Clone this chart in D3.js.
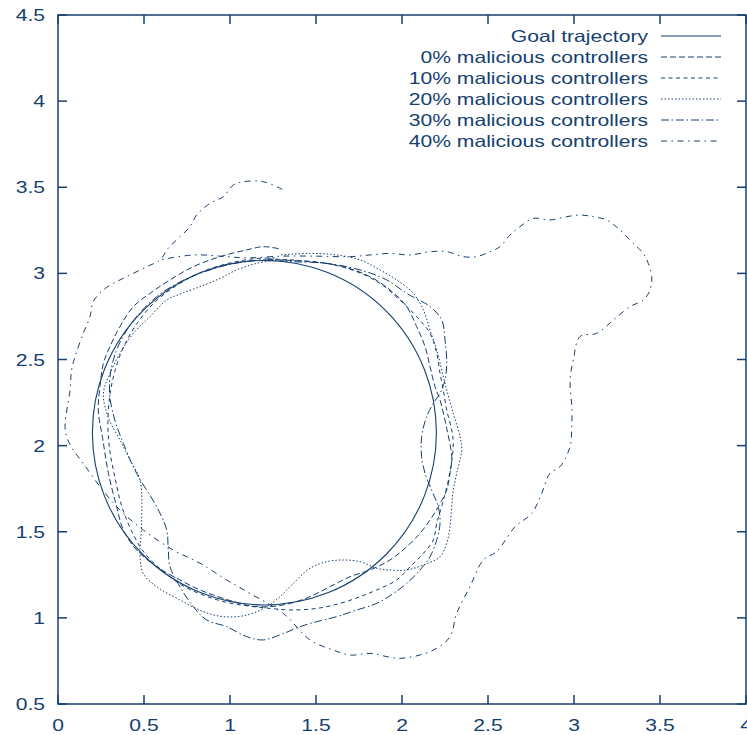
<!DOCTYPE html>
<html>
<head>
<meta charset="utf-8">
<script src="https://cdn.jsdelivr.net/npm/d3@7"></script>
<style>
body { margin: 0; background: #fff; }
text { font-family: "Liberation Sans", Arial, sans-serif; font-size: 16.5px; fill: #163f6f; }
</style>
</head>
<body>
<svg id="chart" width="747" height="735"></svg>
<script>

// tick values
const xTicks = [0, 0.5, 1, 1.5, 2, 2.5, 3, 3.5, 4];
const yTicks = [0.5, 1, 1.5, 2, 2.5, 3, 3.5, 4, 4.5];

const seriesNames = ['Goal trajectory', '0% malicious controllers', '10% malicious controllers',
                     '20% malicious controllers', '30% malicious controllers', '40% malicious controllers'];

// goal trajectory is a circle
const goalCenter = [1.2, 2.075];
const goalRadius = 1.0;

const traj0 = [
  [1.22,3.08],[1.465,3.068],[1.659,3.039],[1.814,2.981],[1.93,2.904],[2.027,2.807],[2.085,2.691],
  [2.134,2.575],[2.163,2.458],[2.192,2.342],[2.221,2.265],[2.26,2.10],[2.289,1.936],[2.279,1.839],
  [2.26,1.742],[2.211,1.645],[2.163,1.568],[2.105,1.491],[2.027,1.413],[1.93,1.336],[1.814,1.278],
  [1.698,1.239],[1.581,1.181],[1.465,1.123],[1.349,1.084],[1.233,1.065],[1.116,1.07],[0.961,1.113],
  [0.826,1.162],[0.709,1.22],[0.574,1.297],[0.457,1.394],[0.38,1.51],[0.341,1.645],[0.293,1.839],
  [0.26,2.04],[0.234,2.207],[0.244,2.342],[0.264,2.478],[0.302,2.575],[0.36,2.691],[0.438,2.807],
  [0.535,2.884],[0.651,2.962],[0.787,3.039],[0.942,3.097],[1.097,3.136],[1.194,3.155],[1.30,3.14]
];

const traj10 = [
  [1.22,3.085],[1.40,3.075],[1.562,3.058],[1.737,3.01],[1.872,2.942],[1.988,2.845],[2.085,2.749],
  [2.163,2.652],[2.202,2.536],[2.221,2.42],[2.24,2.323],[2.26,2.207],[2.289,2.091],[2.298,2.012],
  [2.28,1.85],[2.24,1.68],[2.202,1.549],[2.182,1.452],[2.124,1.374],[2.047,1.297],[1.969,1.22],
  [1.853,1.162],[1.756,1.123],[1.64,1.084],[1.504,1.055],[1.349,1.046],[1.233,1.055],[1.10,1.07],
  [0.98,1.09],[0.85,1.13],[0.72,1.19],[0.60,1.28],[0.50,1.38],[0.43,1.50],[0.37,1.65],[0.33,1.82],
  [0.30,1.98],[0.29,2.13],[0.30,2.28],[0.33,2.43],[0.38,2.57],[0.46,2.71],[0.56,2.83],[0.69,2.93],
  [0.84,3.01],[1.0,3.06],[1.14,3.085],[1.26,3.09]
];

const traj20 = [
  [1.271,3.078],[1.155,3.058],[1.039,3.02],[0.942,2.971],[0.826,2.923],[0.719,2.884],[0.632,2.845],
  [0.535,2.749],[0.438,2.652],[0.36,2.536],[0.302,2.42],[0.264,2.304],[0.29,2.17],[0.36,2.033],
  [0.419,1.916],[0.477,1.8],[0.486,1.549],[0.477,1.355],[0.496,1.257],[0.574,1.181],[0.709,1.104],
  [0.845,1.036],[0.961,1.007],[1.097,1.016],[1.213,1.065],[1.291,1.123],[1.368,1.2],[1.465,1.288],
  [1.562,1.326],[1.659,1.336],[1.756,1.326],[1.853,1.288],[1.93,1.278],[2.027,1.278],[2.124,1.307],
  [2.221,1.355],[2.26,1.433],[2.279,1.529],[2.289,1.645],[2.298,1.742],[2.318,1.839],[2.347,1.975],
  [2.337,2.052],[2.298,2.188],[2.26,2.323],[2.231,2.439],[2.202,2.555],[2.163,2.671],[2.124,2.788],
  [2.066,2.884],[1.969,2.962],[1.872,3.02],[1.756,3.078],[1.62,3.107],[1.465,3.116],[1.291,3.107]
];

const traj30 = [
  [1.20,3.08],[1.368,3.068],[1.562,3.058],[1.756,3.02],[1.911,2.962],[2.027,2.884],[2.163,2.807],
  [2.231,2.729],[2.25,2.613],[2.26,2.478],[2.25,2.381],[2.221,2.304],[2.182,2.245],[2.143,2.168],
  [2.114,2.052],[2.114,1.936],[2.134,1.839],[2.172,1.742],[2.211,1.645],[2.221,1.549],[2.202,1.452],
  [2.163,1.355],[2.105,1.278],[2.027,1.2],[1.95,1.142],[1.853,1.084],[1.737,1.046],[1.62,1.007],
  [1.504,0.978],[1.407,0.949],[1.31,0.909],[1.194,0.872],[1.097,0.891],[0.981,0.949],[0.864,0.988],
  [0.787,1.065],[0.709,1.181],[0.651,1.297],[0.641,1.394],[0.632,1.51],[0.574,1.645],[0.457,1.839],
  [0.38,2.013],[0.33,2.15],[0.30,2.3],[0.31,2.45],[0.36,2.6],[0.45,2.74],[0.58,2.87],[0.75,2.97],
  [0.95,3.04],[1.10,3.07],[1.20,3.08]
];

const traj40 = [
  [1.304,3.488],[1.194,3.532],[1.077,3.532],[1.019,3.513],[0.961,3.445],[0.884,3.407],[0.806,3.339],
  [0.767,3.271],[0.70,3.204],[0.641,3.146],[0.593,3.078],[0.516,3.039],[0.399,2.981],[0.322,2.942],
  [0.264,2.904],[0.205,2.836],[0.186,2.749],[0.147,2.652],[0.099,2.517],[0.079,2.439],[0.07,2.323],
  [0.041,2.12],[0.05,2.052],[0.089,1.975],[0.147,1.897],[0.244,1.762],[0.36,1.626],[0.496,1.51],
  [0.67,1.394],[0.826,1.317],[0.981,1.22],[1.116,1.142],[1.31,1.026],[1.465,0.872],[1.601,0.813],
  [1.698,0.784],[1.814,0.794],[1.988,0.765],[2.182,0.813],[2.279,0.891],[2.318,1.026],[2.395,1.181],
  [2.473,1.336],[2.55,1.384],[2.60,1.45],[2.657,1.529],[2.754,1.606],[2.812,1.722],[2.86,1.839],
  [2.919,1.878],[2.977,1.994],[2.987,2.11],[2.987,2.226],[2.977,2.381],[2.996,2.497],[3.035,2.633],
  [3.132,2.652],[3.229,2.729],[3.326,2.807],[3.403,2.845],[3.442,2.904],[3.452,2.981],[3.432,3.058],
  [3.403,3.116],[3.345,3.174],[3.267,3.252],[3.19,3.31],[3.112,3.329],[3.035,3.339],[2.957,3.329],
  [2.86,3.31],[2.763,3.319],[2.686,3.271],[2.628,3.223],[2.57,3.155],[2.512,3.126],[2.434,3.097],
  [2.357,3.097],[2.26,3.126],[2.163,3.126],[2.047,3.107],[1.93,3.116],[1.814,3.107],[1.698,3.097],
  [1.5,3.10],[1.3,3.10],[1.1,3.09],[0.981,3.097],[0.787,3.107],[0.593,3.078]
];

const trajectories = [traj0, traj10, traj20, traj30, traj40];
const dashes = [null, '6,3', '4,3.5', '1.5,2', '8,2.5,1.5,3', '6,4.5,1.5,4.5'];

const ink = '#163f6f';
const stretch = 1.28;   // the original text is wider than plain Helvetica

let svg = d3.select('#chart');

let x = d3.scaleLinear().domain([0, 4]).range([58, 746]);
let y = d3.scaleLinear().domain([0.5, 4.5]).range([704, 15]);

function label(px, py, txt, anchor) {
    svg.append('text')
        .attr('transform', `translate(${px},${py}) scale(${stretch},1)`)
        .attr('text-anchor', anchor)
        .text(txt);
}

// clip for the curves
svg.append('defs').append('clipPath').attr('id', 'plotclip')
    .append('rect')
    .attr('x', x(0)).attr('y', y(4.5))
    .attr('width', x(4) - x(0)).attr('height', y(0.5) - y(4.5));

let plot = svg.append('g').attr('clip-path', 'url(#plotclip)');

// goal circle
plot.append('ellipse')
    .attr('cx', x(goalCenter[0]))
    .attr('cy', y(goalCenter[1]))
    .attr('rx', x(goalCenter[0] + goalRadius) - x(goalCenter[0]))
    .attr('ry', y(goalCenter[1]) - y(goalCenter[1] + goalRadius))
    .attr('fill', 'none')
    .attr('stroke', ink)
    .attr('stroke-width', 1.1);

let line = d3.line()
    .x(d => x(d[0]))
    .y(d => y(d[1]))
    .curve(d3.curveCatmullRom.alpha(0.5));

trajectories.forEach((t, i) => {
    plot.append('path')
        .datum(t)
        .attr('d', line)
        .attr('fill', 'none')
        .attr('stroke', ink)
        .attr('stroke-width', 1)
        .attr('stroke-dasharray', dashes[i + 1]);
});

// frame
svg.append('rect')
    .attr('x', x(0)).attr('y', y(4.5))
    .attr('width', x(4) - x(0)).attr('height', y(0.5) - y(4.5))
    .attr('fill', 'none')
    .attr('stroke', ink)
    .attr('stroke-width', 1.5);

// ticks, mirrored on top and right like gnuplot
let tickLen = 9;
xTicks.forEach(t => {
    svg.append('line').attr('x1', x(t)).attr('x2', x(t))
        .attr('y1', y(0.5)).attr('y2', y(0.5) - tickLen)
        .attr('stroke', ink).attr('stroke-width', 1.5);
    svg.append('line').attr('x1', x(t)).attr('x2', x(t))
        .attr('y1', y(4.5)).attr('y2', y(4.5) + tickLen)
        .attr('stroke', ink).attr('stroke-width', 1.5);
    label(x(t), 731, t, 'middle');
});
yTicks.forEach(t => {
    svg.append('line').attr('x1', x(0)).attr('x2', x(0) + tickLen)
        .attr('y1', y(t)).attr('y2', y(t))
        .attr('stroke', ink).attr('stroke-width', 1.5);
    svg.append('line').attr('x1', x(4)).attr('x2', x(4) - tickLen)
        .attr('y1', y(t)).attr('y2', y(t))
        .attr('stroke', ink).attr('stroke-width', 1.5);
    label(45, y(t) + 6, t, 'end');
});

// legend
seriesNames.forEach((name, i) => {
    let rowY = 36 + i * 21;
    label(648, rowY + 6, name, 'end');
    svg.append('line')
        .attr('x1', 661).attr('x2', 721)
        .attr('y1', rowY).attr('y2', rowY)
        .attr('stroke', ink)
        .attr('stroke-width', 1)
        .attr('stroke-dasharray', dashes[i]);
});

</script>
</body>
</html>
